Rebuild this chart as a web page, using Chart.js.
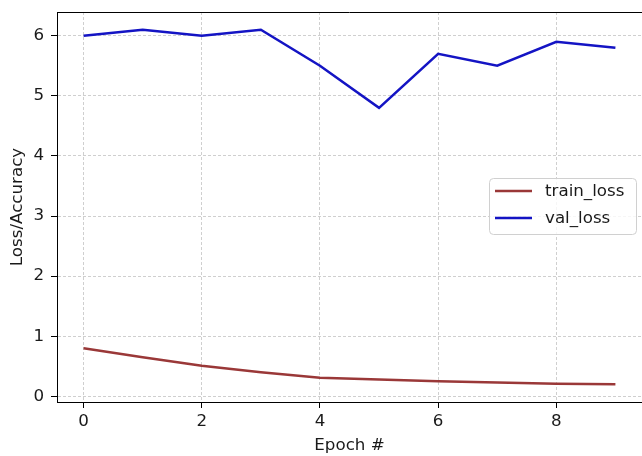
<!DOCTYPE html>
<html>
<head>
<meta charset="utf-8">
<script src="https://cdn.jsdelivr.net/npm/chart.js@4/dist/chart.umd.min.js"></script>
<style>
  html, body { margin: 0; padding: 0; background: #fff; }
  #wrap { width: 642px; height: 456px; position: relative; }
</style>
</head>
<body>
<div id="wrap"><canvas id="c" width="642" height="456"></canvas></div>
<script>
const epochs = [0, 1, 2, 3, 4, 5, 6, 7, 8, 9];
const trainLoss = [0.80, 0.65, 0.51, 0.40, 0.31, 0.28, 0.25, 0.23, 0.21, 0.20];
const valLoss = [6.0, 6.1, 6.0, 6.1, 5.5, 4.8, 5.7, 5.5, 5.9, 5.8];
const xTicks = [0, 2, 4, 6, 8];
const yTicks = [0, 1, 2, 3, 4, 5, 6];
const seriesNames = ['train_loss', 'val_loss'];
const xTitle = 'Epoch #';
const yTitle = 'Loss/Accuracy';

const FONT = 'DejaVu Sans';
const FS = 16.7;
const TEXT = '#1a1a1a';
const colors = ['#9a3838', '#1414c4'];

const framePlugin = {
  id: 'frame',
  afterDraw(chart) {
    const { ctx, chartArea: a } = chart;
    ctx.save();
    ctx.strokeStyle = '#000';
    ctx.lineWidth = 1;
    ctx.beginPath();
    ctx.moveTo(a.left, a.top + 0.5);
    ctx.lineTo(a.right, a.top + 0.5);
    ctx.stroke();
    ctx.restore();
  }
};

const legendPlugin = {
  id: 'boxLegend',
  afterDatasetsDraw(chart) {
    const { ctx } = chart;
    const x = 489.5, y = 178.5, w = 147, h = 56, r = 4;
    ctx.save();
    ctx.beginPath();
    ctx.moveTo(x + r, y);
    ctx.lineTo(x + w - r, y);
    ctx.arcTo(x + w, y, x + w, y + r, r);
    ctx.lineTo(x + w, y + h - r);
    ctx.arcTo(x + w, y + h, x + w - r, y + h, r);
    ctx.lineTo(x + r, y + h);
    ctx.arcTo(x, y + h, x, y + h - r, r);
    ctx.lineTo(x, y + r);
    ctx.arcTo(x, y, x + r, y, r);
    ctx.closePath();
    ctx.fillStyle = 'rgba(255,255,255,0.8)';
    ctx.fill();
    ctx.strokeStyle = '#d0d0d0';
    ctx.lineWidth = 1;
    ctx.stroke();
    chart.data.datasets.forEach((ds, i) => {
      const ly = 191 + i * 27;
      ctx.strokeStyle = ds.borderColor;
      ctx.lineWidth = 2.5;
      ctx.beginPath();
      ctx.moveTo(495, ly);
      ctx.lineTo(532, ly);
      ctx.stroke();
      ctx.fillStyle = TEXT;
      ctx.font = FS + 'px "' + FONT + '"';
      ctx.textBaseline = 'middle';
      ctx.textAlign = 'left';
      ctx.fillText(ds.label, 545, ly + 1);
    });
    ctx.restore();
  }
};

const mk = (vals) => epochs.map((e, i) => ({ x: e, y: vals[i] }));

new Chart(document.getElementById('c'), {
  type: 'line',
  data: {
    datasets: [
      { label: seriesNames[0], data: mk(trainLoss), borderColor: colors[0], backgroundColor: colors[0], borderWidth: 2.5, pointRadius: 0, tension: 0, fill: false },
      { label: seriesNames[1], data: mk(valLoss), borderColor: colors[1], backgroundColor: colors[1], borderWidth: 2.5, pointRadius: 0, tension: 0, fill: false }
    ]
  },
  options: {
    responsive: false,
    animation: false,
    events: [],
    layout: { padding: { top: 12, right: 0, left: 0, bottom: 0 } },
    plugins: { legend: { display: false }, tooltip: { enabled: false } },
    scales: {
      x: {
        type: 'linear',
        min: -0.45,
        max: 9.45,
        afterBuildTicks: (s) => { s.ticks = xTicks.map(v => ({ value: v })); },
        afterFit: (s) => { s.height = 54; s.paddingLeft = 0; s.paddingRight = 0; },
        ticks: { font: { family: FONT, size: FS }, color: TEXT, padding: 4, maxRotation: 0, autoSkip: false, callback: (v) => String(v) },
        grid: { color: '#cfcfcf', lineWidth: 1, tickLength: 6, tickColor: '#000', tickWidth: 1, tickBorderDash: [] },
        border: { display: true, color: '#000', width: 1, dash: [3, 2] },
        title: { display: true, text: xTitle, font: { family: FONT, size: FS }, color: TEXT, padding: { top: 0, bottom: 0 } }
      },
      y: {
        type: 'linear',
        min: -0.095,
        max: 6.395,
        afterBuildTicks: (s) => { s.ticks = yTicks.map(v => ({ value: v })); },
        afterFit: (s) => { s.width = 57; s.paddingTop = 0; s.paddingBottom = 0; },
        ticks: { font: { family: FONT, size: FS }, color: TEXT, padding: 7, callback: (v) => String(v) },
        grid: { color: '#cfcfcf', lineWidth: 1, tickLength: 6, tickColor: '#000', tickWidth: 1, tickBorderDash: [] },
        border: { display: true, color: '#000', width: 1, dash: [3, 2] },
        title: { display: true, text: yTitle, font: { family: FONT, size: FS }, color: TEXT, padding: { top: 8, bottom: 0 } }
      }
    }
  },
  plugins: [framePlugin, legendPlugin]
});
</script>
</body>
</html>
